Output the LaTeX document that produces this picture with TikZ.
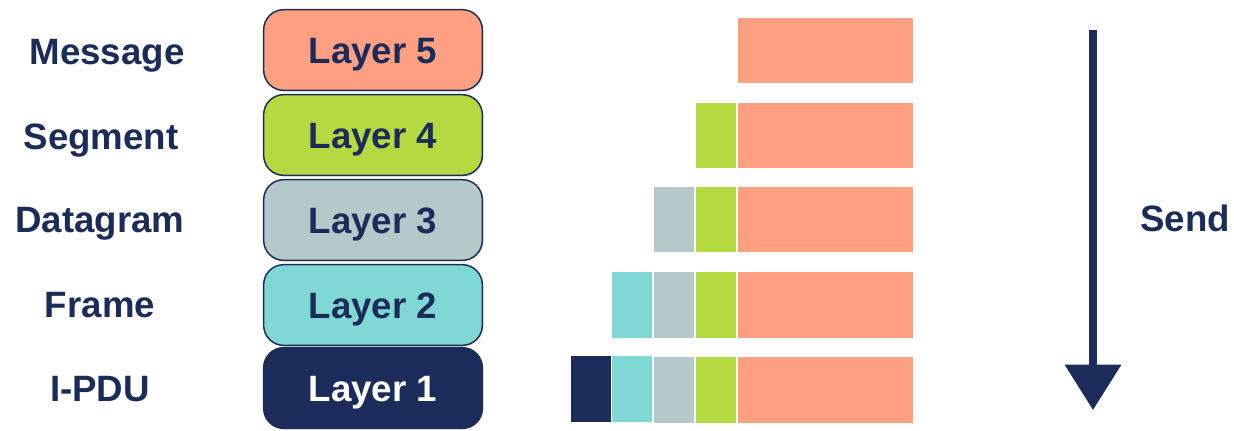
\documentclass[tikz,border=0pt]{standalone}
\usepackage{fontspec}
\setmainfont{Liberation Sans}
\usetikzlibrary{arrows.meta,shadows}
\definecolor{navy}{HTML}{1B2C5A}
\definecolor{lorange}{HTML}{FFA083}
\definecolor{lgreen}{HTML}{B5DA41}
\definecolor{lgray}{HTML}{B5C8CA}
\definecolor{lteal}{HTML}{80D8D4}
\tikzset{
  lbl/.style={font=\fontsize{27.5}{33}\selectfont\bfseries, text=navy, anchor=center, text height=19.7pt, text depth=0pt},
  layerbox/.style={draw=navy, line width=1.1pt, rounded corners=15pt, minimum width=164pt, minimum height=60.5pt,
     font=\fontsize{27.5}{33}\selectfont\bfseries, text=navy, text height=19.7pt, text depth=0pt,
     drop shadow={opacity=0.2, shadow xshift=1pt, shadow yshift=-1pt}},
}
\begin{document}
\begin{tikzpicture}[x=0.75pt,y=-0.75pt]
\useasboundingbox (0,0) rectangle (1234,430);
% left labels
\node[lbl] (m) at (107,51) {Message};
\node[lbl] (s) at (101,136) {Segment};
\node[lbl] (d) at (100,219) {Datagram};
\node[lbl] (f) at (100,304) {Frame};
\node[lbl] (i) at (100,388) {I-PDU};
% layer boxes
\node[layerbox, fill=lorange] (l5) at (373,50) {Layer 5};
\node[layerbox, fill=lgreen] (l4) at (373,135) {Layer 4};
\node[layerbox, fill=lgray] (l3) at (373,220) {Layer 3};
\node[layerbox, fill=lteal] (l2) at (373,305) {Layer 2};
\node[layerbox, fill=navy, text=white] (l1) at (373,388) {Layer 1};
% PDU blocks
% row 1
\fill[lorange] (738,18) rectangle (913,83);
% row 2
\fill[lgreen] (696,103) rectangle (736,168);
\fill[lorange] (738,103) rectangle (913,168);
% row 3
\fill[lgray] (654,187) rectangle (694,252);
\fill[lgreen] (696,187) rectangle (736,252);
\fill[lorange] (738,187) rectangle (913,252);
% row 4
\fill[lteal] (612,272) rectangle (652,338);
\fill[lgray] (654,272) rectangle (694,338);
\fill[lgreen] (696,272) rectangle (736,338);
\fill[lorange] (738,272) rectangle (913,338);
% row 5
\fill[navy] (571,356) rectangle (611,422);
\fill[lteal] (612,356) rectangle (652,422);
\fill[lgray] (654,357) rectangle (694,423);
\fill[lgreen] (696,357) rectangle (736,423);
\fill[lorange] (738,357) rectangle (913,423);
% send arrow
\coordinate (a1) at (1093,30);
\coordinate (a2) at (1093,410);
\draw[navy, line width=6pt, -{Triangle[width=41pt,length=34pt]}] (a1) -- (a2);
\node[lbl] (send) at (1185,218) {Send};
\end{tikzpicture}
\end{document}
